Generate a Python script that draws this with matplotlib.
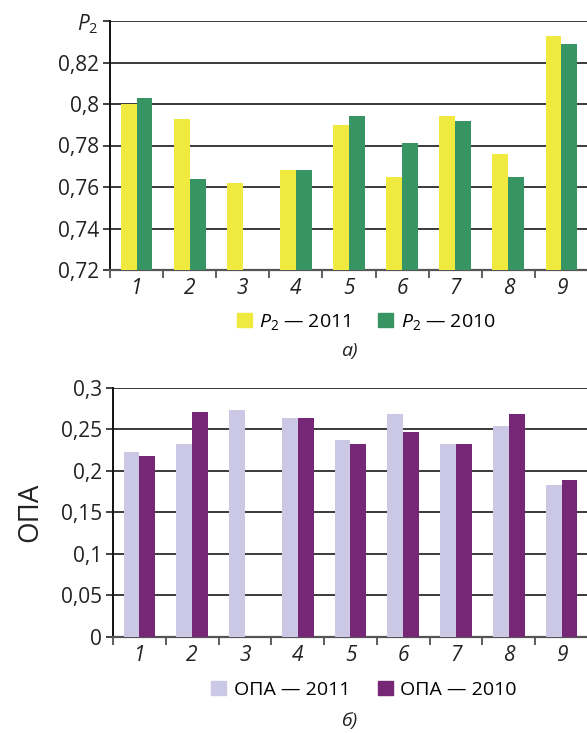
import matplotlib
matplotlib.use("Agg")
import matplotlib.pyplot as plt
import numpy as np
from matplotlib.patches import Patch

plt.rcParams['font.family'] = ['Open Sans', 'DejaVu Sans']
plt.rcParams['mathtext.fontset'] = 'custom'
plt.rcParams['mathtext.rm'] = 'Open Sans'
plt.rcParams['mathtext.it'] = 'Open Sans:italic'

categories = ['1', '2', '3', '4', '5', '6', '7', '8', '9']
p2_2011 = [0.800, 0.793, 0.762, 0.768, 0.790, 0.765, 0.794, 0.776, 0.833]
p2_2010 = [0.803, 0.764, np.nan, 0.768, 0.794, 0.781, 0.792, 0.765, 0.829]
opa_2011 = [0.223, 0.232, 0.273, 0.264, 0.237, 0.268, 0.232, 0.254, 0.183]
opa_2010 = [0.218, 0.271, np.nan, 0.264, 0.232, 0.247, 0.232, 0.268, 0.189]

top_yticks = [0.72, 0.74, 0.76, 0.78, 0.80, 0.82, 0.84]
top_ylabels = ['0,72', '0,74', '0,76', '0,78', '0,8', '0,82', '$P_2$']
bot_yticks = [0, 0.05, 0.1, 0.15, 0.2, 0.25, 0.3]
bot_ylabels = ['0', '0,05', '0,1', '0,15', '0,2', '0,25', '0,3']

c_yellow = '#EFE940'
c_green = '#379563'
c_lav = '#CAC8E4'
c_purple = '#762876'

FS = 15
LFS = 14
W, H = 587, 733
fig = plt.figure(figsize=(W/100, H/100), dpi=100)

def make_axes(rect, s1, s2, c1, c2, yticks, ylabels, ylim):
    ax = fig.add_axes(rect)
    x = np.arange(len(categories))
    bw = 0.3
    ax.bar(x - bw/2, s1, width=bw, color=c1, zorder=3)
    ax.bar(x + bw/2, s2, width=bw, color=c2, zorder=3)
    ax.set_xlim(-0.5, len(categories) - 0.5)
    ax.set_ylim(*ylim)
    ax.set_yticks(yticks)
    ax.set_yticklabels(ylabels, fontsize=FS, color='#222222')
    ax.yaxis.grid(True, color='#3a3a3a', linewidth=1.4, zorder=1)
    ax.set_axisbelow(True)
    ax.set_xticks(np.arange(-0.5, len(categories), 1.0))
    ax.set_xticklabels([])
    ax.set_xticks(x, minor=True)
    ax.set_xticklabels(categories, minor=True, fontsize=FS, style='italic', color='#222222')
    ax.tick_params(axis='x', which='minor', length=0, pad=6)
    ax.tick_params(axis='x', which='major', length=6, width=1.2, color='#444444', direction='out')
    ax.tick_params(axis='y', length=5, width=1.2, color='#222222', pad=3)
    for s in ['top', 'right']:
        ax.spines[s].set_visible(False)
    ax.spines['left'].set_color('#111111')
    ax.spines['left'].set_linewidth(1.4)
    ax.spines['bottom'].set_color('#555555')
    ax.spines['bottom'].set_linewidth(1.6)
    return ax

ax1 = make_axes([110/W, 1 - 270/H, 478/W, 249/H], p2_2011, p2_2010, c_yellow, c_green,
                top_yticks, top_ylabels, (0.72, 0.84))
ax2 = make_axes([113/W, 1 - 636.7/H, 475/W, 249/H], opa_2011, opa_2010, c_lav, c_purple,
                bot_yticks, bot_ylabels, (0, 0.3))
ax2.set_ylabel('ОПА', fontsize=20, labelpad=12, color='#222222')

h1 = [Patch(color=c_yellow), Patch(color=c_green)]
fig.legend(h1, ['$P_2$ — 2011', '$P_2$ — 2010'], loc='center', bbox_to_anchor=(366/W, 1 - 322/H),
           ncol=2, frameon=False, fontsize=LFS, handlelength=0.77, handleheight=0.77,
           handletextpad=0.4, columnspacing=1.4)
fig.text(349/W, 1 - 351/H, 'a)', fontsize=LFS, style='italic', ha='center', va='center', color='#222222')

h2 = [Patch(color=c_lav), Patch(color=c_purple)]
fig.legend(h2, ['ОПА — 2011', 'ОПА — 2010'], loc='center', bbox_to_anchor=(364/W, 1 - 690/H),
           ncol=2, frameon=False, fontsize=LFS, handlelength=0.77, handleheight=0.77,
           handletextpad=0.4, columnspacing=1.4)
fig.text(349/W, 1 - 721/H, 'б)', fontsize=LFS, style='italic', ha='center', va='center', color='#222222')

fig.savefig('out.png', dpi=100)
